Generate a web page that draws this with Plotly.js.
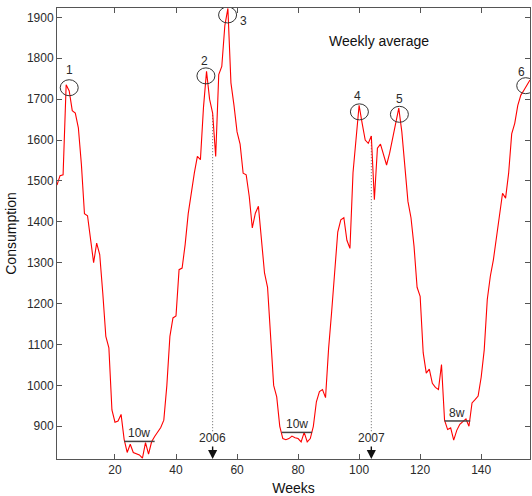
<!DOCTYPE html>
<html>
<head>
<meta charset="utf-8">
<script src="https://cdn.plot.ly/plotly-3.0.1.min.js"></script>
<style>html,body{margin:0;padding:0;background:#fff;}#chart{width:532px;height:496px;}</style>
</head>
<body>
<div id="chart"></div>
<script>
// Weekly average consumption, weeks 1..156
const consumption = [
  1490,1513,1515,1735,1720,1672,1666,1630,1540,1420,
  1415,1350,1300,1348,1320,1226,1120,1092,940,910,
  913,929,868,836,856,836,832,830,822,860,
  832,862,875,885,897,915,1000,1120,1165,1170,
  1283,1287,1345,1420,1475,1519,1560,1552,1680,1768,
  1700,1666,1560,1760,1780,1880,1922,1740,1685,1620,
  1590,1519,1515,1462,1385,1421,1438,1350,1275,1240,
  1110,1000,972,900,870,867,870,876,872,870,
  862,885,862,870,900,960,985,990,970,1090,
  1180,1280,1375,1405,1410,1355,1335,1520,1610,1685,
  1641,1600,1592,1610,1454,1580,1590,1565,1539,1568,
  1605,1645,1678,1620,1530,1450,1410,1340,1240,1218,
  1080,1030,1040,1005,995,990,1051,915,892,896,
  866,890,905,912,918,900,957,965,974,1020,
  1087,1210,1267,1307,1360,1421,1470,1458,1519,1615,
  1641,1685,1710,1722,1735,1747
];
const weeks = consumption.map((_, i) => i + 1);

// Peak markers (circles) and their labels
const peakLabels = ['1','2','3','4','5','6'];
const circleWeeks = [5, 49.8, 56.9, 100.1, 113.2, 154.6];
const circleValues = [1728, 1757, 1906, 1669, 1663, 1733];
const labelWeeks = [5, 49.2, 62.1, 99.6, 113.2, 153.3];
const labelValues = [1771, 1794, 1892, 1708, 1701, 1767];

// Low-season spans
const spanLabels = ['10w', '10w', '8w'];
const spanStart = [23, 74.6, 128];
const spanEnd = [33, 84.6, 136.4];
const spanLevel = [863, 885, 913];

// Year boundaries
const yearLabels = ['2006', '2007'];
const yearWeeks = [52, 104];
const yearLineBottom = 888;

const xTicks = [20, 40, 60, 80, 100, 120, 140];
const yTicks = [900, 1000, 1100, 1200, 1300, 1400, 1500, 1600, 1700, 1800, 1900];
const xRange = [1, 156];
const yRange = [820, 1923];

const FONT = 'Arial, "Liberation Sans", sans-serif';
const TXT = '#2a2a2a';
const AX = '#555555';

const traces = [];
// dotted year lines, from curve down to above label
yearWeeks.forEach((w) => {
  traces.push({
    x: [w, w], y: [yearLineBottom, consumption[w - 1]],
    mode: 'lines', line: {color: '#666', width: 1, dash: '1px,2px'},
    hoverinfo: 'skip', showlegend: false
  });
});
traces.push({
  x: weeks, y: consumption, mode: 'lines',
  line: {color: '#ff0000', width: 1.1},
  showlegend: false
});

const shapes = [];
circleWeeks.forEach((w, i) => {
  shapes.push({
    type: 'circle', xref: 'x', yref: 'y',
    xsizemode: 'pixel', ysizemode: 'pixel',
    xanchor: w, yanchor: circleValues[i],
    x0: -9, x1: 9, y0: -8, y1: 8,
    line: {color: '#333', width: 1}, layer: 'above'
  });
});
spanStart.forEach((s, i) => {
  shapes.push({
    type: 'line', xref: 'x', yref: 'y',
    x0: s, x1: spanEnd[i], y0: spanLevel[i], y1: spanLevel[i],
    line: {color: '#444', width: 1.5}, layer: 'above'
  });
});

const annotations = [];
peakLabels.forEach((t, i) => {
  annotations.push({
    x: labelWeeks[i], y: labelValues[i], xref: 'x', yref: 'y',
    xanchor: 'center', yanchor: 'middle',
    text: t, showarrow: false, font: {family: FONT, size: 12, color: TXT}
  });
});
spanLabels.forEach((t, i) => {
  annotations.push({
    x: (spanStart[i] + spanEnd[i]) / 2, y: spanLevel[i], xref: 'x', yref: 'y',
    xanchor: 'center', yanchor: 'middle',
    text: t, showarrow: false, yshift: 8,
    font: {family: FONT, size: 12, color: TXT}
  });
});
yearLabels.forEach((t, i) => {
  annotations.push({
    x: yearWeeks[i], y: yRange[0], xref: 'x', yref: 'y',
    text: t, showarrow: true, ax: 0, ay: -21,
    arrowhead: 2, arrowsize: 1.3, arrowwidth: 1.4, arrowcolor: '#111',
    standoff: 0, font: {family: FONT, size: 12, color: TXT}
  });
});
annotations.push({
  x: 0.681, y: 0.927, xref: 'paper', yref: 'paper',
  xanchor: 'center', yanchor: 'middle',
  text: 'Weekly average', showarrow: false,
  font: {family: FONT, size: 14, color: '#111'}
});

const axisCommon = {
  showgrid: false, zeroline: false, showline: true, mirror: 'ticks',
  linecolor: AX, linewidth: 1, ticks: 'inside', ticklen: 5,
  tickcolor: AX, tickwidth: 1,
  tickfont: {family: FONT, size: 12, color: TXT}
};

const layout = {
  width: 532, height: 496,
  margin: {l: 57, r: 2, t: 8, b: 37},
  paper_bgcolor: '#fff', plot_bgcolor: '#fff',
  showlegend: false,
  xaxis: Object.assign({}, axisCommon, {
    range: xRange, tickvals: xTicks,
    title: {text: 'Weeks', font: {family: FONT, size: 14, color: '#111'}, standoff: 6}
  }),
  yaxis: Object.assign({}, axisCommon, {
    range: yRange, tickvals: yTicks,
    title: {text: 'Consumption', font: {family: FONT, size: 14, color: '#111'}, standoff: 6}
  }),
  shapes: shapes,
  annotations: annotations
};

Plotly.newPlot('chart', traces, layout, {displayModeBar: false, staticPlot: true});
</script>
</body>
</html>
